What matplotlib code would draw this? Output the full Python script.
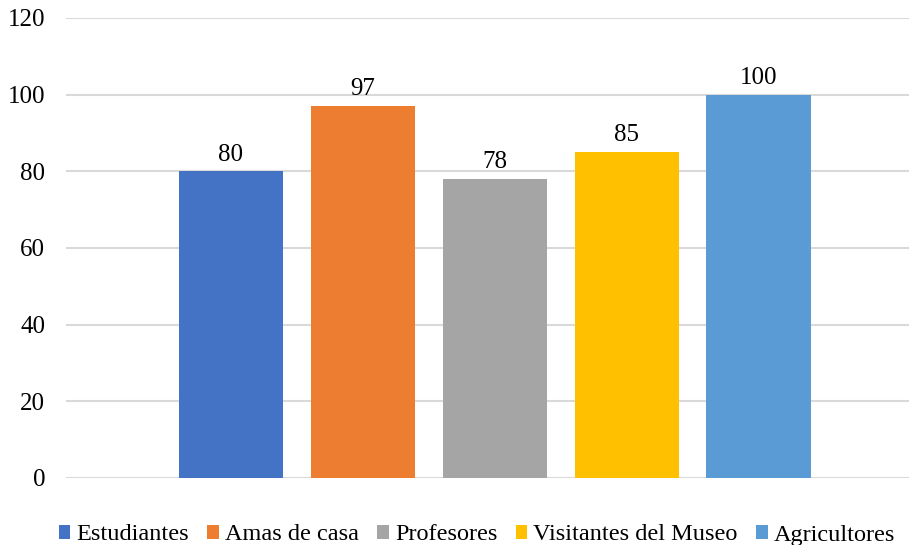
import matplotlib.pyplot as plt

categorias = ["Estudiantes", "Amas de casa", "Profesores", "Visitantes del Museo", "Agricultores"]
valores = [80, 97, 78, 85, 100]
colores = ["#4472C4", "#ED7D31", "#A5A5A5", "#FFC000", "#5B9BD5"]

plt.rcParams['font.family'] = ['Liberation Serif', 'DejaVu Serif']

fig = plt.figure(figsize=(9.09, 5.45), dpi=100)
ax = fig.add_axes([66/909, 67/545, 843/909, 460/545])

for i in range(len(categorias)):
	ax.bar(i, valores[i], width=0.79, color=colores[i], label=categorias[i], zorder=3)
	ax.text(i, valores[i] + 1.5, str(valores[i]), ha='center', va='bottom', fontsize=18)

ax.set_ylim(0, 120)
ax.set_xlim(-1.25, 5.14)
ax.set_yticks([0, 20, 40, 60, 80, 100, 120])
ax.set_xticks([])
ax.tick_params(axis='y', length=0, labelsize=18, pad=15)
ax.grid(axis='y', color='#d9d9d9', linewidth=1.5, zorder=0)
for s in ax.spines.values():
	s.set_visible(False)

fig.legend(loc='center', bbox_to_anchor=(477/909, 10/545), ncol=5, frameon=False,
	fontsize=17.5, handlelength=0.48, handleheight=0.48, handletextpad=0.25,
	columnspacing=0.75, borderpad=0, borderaxespad=0)

plt.savefig("out.png", dpi=100)
